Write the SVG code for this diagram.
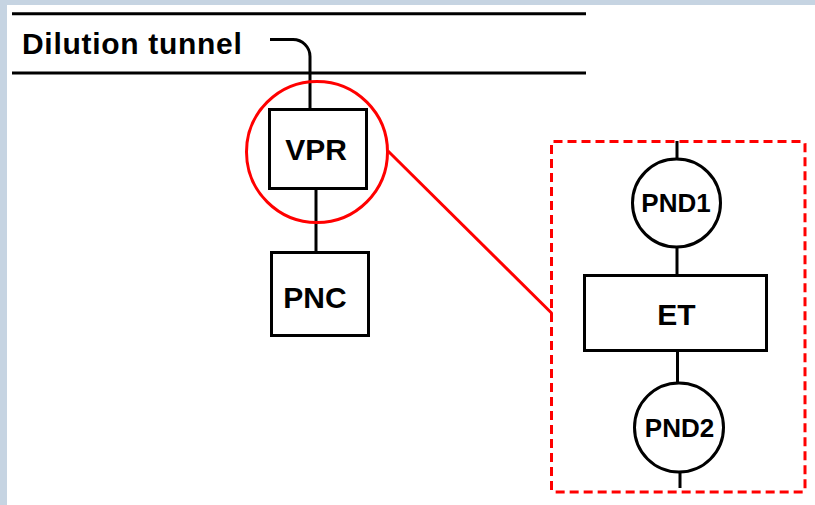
<svg xmlns="http://www.w3.org/2000/svg" width="815" height="505" viewBox="0 0 815 505">
  <style>
    .ln { fill: none; stroke: #000; stroke-width: 3; }
    .box { fill: #fff; stroke: #000; stroke-width: 3; }
    .red { fill: none; stroke: #ff0000; stroke-width: 3; }
    .lbl { font-family: "Liberation Sans", Arial, sans-serif; fill: #000; text-anchor: middle; }
  </style>
  <!-- page background with frame strips -->
  <rect x="0" y="0" width="815" height="505" fill="#fff"/>
  <rect x="0" y="0" width="815" height="5" fill="#c6d4e2"/>
  <rect x="0" y="0" width="7" height="505" fill="#c6d4e2"/>

  <!-- dilution tunnel walls -->
  <g id="tunnel">
    <line class="ln" x1="12" y1="13.7" x2="586" y2="13.7" stroke-width="3.3"/>
    <line class="ln" x1="12" y1="73" x2="586" y2="73" stroke-width="3.3"/>
    <text class="lbl" x="22" y="54" font-size="30" font-weight="bold" letter-spacing="0.7" style="text-anchor:start">Dilution tunnel</text>
  </g>

  <g id="connectors">
    <path class="ln" d="M270,39.5 H293 A17,17 0 0 1 310,56.5 V109"/>
    <line class="ln" x1="316" y1="189" x2="316" y2="252"/>
    <line class="ln" x1="677" y1="141" x2="677" y2="158"/>
    <line class="ln" x1="677" y1="248" x2="677" y2="275"/>
    <line class="ln" x1="677.5" y1="350" x2="677.5" y2="382"/>
    <line class="ln" x1="680" y1="473" x2="680" y2="488"/>
    <line class="red" x1="388" y1="151" x2="552" y2="313.5"/>
  </g>

  <g id="vpr">
    <rect class="box" x="269.5" y="109.5" width="97" height="79"/>
    <text class="lbl" x="316" y="160" font-size="30" font-weight="bold">VPR</text>
  </g>

  <g id="zoom-circle">
    <circle class="red" cx="317" cy="152" r="70.5"/>
  </g>

  <g id="pnc">
    <rect class="box" x="271.5" y="252.5" width="97" height="83"/>
    <text class="lbl" x="315" y="308" font-size="30" font-weight="bold">PNC</text>
  </g>

  <g id="detail">
    <rect x="551.5" y="141.5" width="253.5" height="350.5" rx="2" fill="none" stroke="#ff0000" stroke-width="3" stroke-dasharray="9 5"/>
  </g>

  <g id="pnd1">
    <circle class="box" cx="676.5" cy="203" r="44"/>
    <text class="lbl" x="676" y="212" font-size="26" font-weight="bold">PND1</text>
  </g>

  <g id="et">
    <rect class="box" x="584.5" y="275.5" width="182" height="75"/>
    <text class="lbl" x="676.5" y="325" font-size="30" font-weight="bold">ET</text>
  </g>

  <g id="pnd2">
    <circle class="box" cx="679" cy="427.5" r="44.5"/>
    <text class="lbl" x="679.5" y="437" font-size="26" font-weight="bold">PND2</text>
  </g>
</svg>
